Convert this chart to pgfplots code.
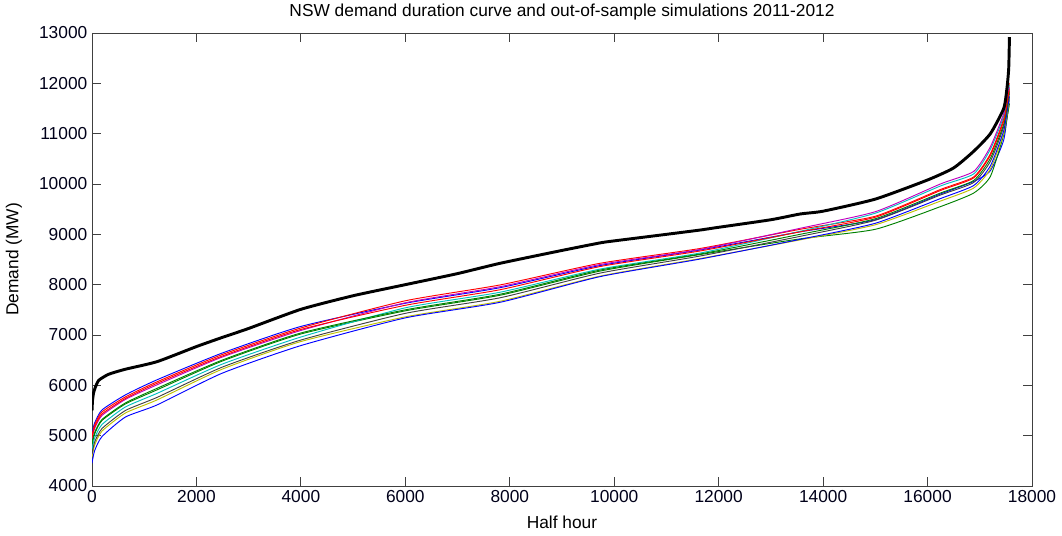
\documentclass[border=0pt]{standalone}
\usepackage{pgfplots}
\pgfplotsset{compat=1.18}
\usepackage{fontspec}
\setmainfont{Liberation Sans}
\definecolor{mb}{rgb}{0,0,1}
\definecolor{mg}{rgb}{0,0.5,0}
\definecolor{mr}{rgb}{1,0,0}
\definecolor{mc}{rgb}{0,0.75,0.75}
\definecolor{mm}{rgb}{0.75,0,0.75}
\definecolor{my}{rgb}{0.75,0.75,0}
\definecolor{mk}{rgb}{0.25,0.25,0.25}
\begin{document}
\begin{tikzpicture}
\begin{axis}[
  name=ax,
  scale only axis,
  width=705pt, height=339.75pt,
  xmin=0, xmax=18000, ymin=4000, ymax=13000,
  xtick={0,2000,...,18000},
  ytick={4000,5000,...,13000},
  scaled ticks=false,
  /pgf/number format/set thousands separator={},
  /pgf/number format/assume math mode=true,
  tick label style={font=\fontsize{13}{15}\selectfont, text=black!90!blue},
  label style={font=\fontsize{13}{15}\selectfont},
  tick align=inside,
  major tick length=6.75pt,
  axis line style={black!75, line width=0.7pt},
  tick style={black!75, line width=0.6pt},
  title={NSW demand duration curve and out-of-sample simulations 2011-2012},
  title style={font=\fontsize{13}{15}\selectfont, at={(axis description cs:0.5,1.0287)}, anchor=center},
  xlabel={Half hour},
  xlabel style={at={(axis description cs:0.5,-0.0795)}, anchor=center},
  ylabel={Demand (MW)},
  ylabel style={at={(axis description cs:-0.083,0.5)}, anchor=center},
  every axis plot/.append style={line width=0.7pt, smooth, tension=0.35},
  clip=true,
]
% blue 1
\addplot[mb] coordinates {(0,5050)(50,5250)(190,5510)(640,5810)(1245,6110)(2490,6640)(4000,7170)(6000,7630)(7816,7940)(9730,8380)(11650,8690)(13560,9050)(15000,9290)(16245,9800)(16883,10050)(17203,10265)(17458,10874)(17554,11590)(17568,11680)};
% green 1
\addplot[mg] coordinates {(0,4810)(50,5030)(190,5300)(640,5630)(1245,5910)(2490,6480)(4000,7020)(6000,7480)(7816,7790)(9730,8270)(11650,8600)(13560,8910)(15000,9100)(16245,9550)(16883,9820)(17203,10150)(17458,10980)(17554,11500)(17568,11600)};
% red 1
\addplot[mr] coordinates {(0,5000)(50,5210)(190,5470)(640,5770)(1245,6070)(2490,6610)(4000,7140)(6000,7680)(7816,7995)(9730,8425)(11650,8720)(13560,9100)(15000,9360)(16245,9890)(16883,10140)(17203,10600)(17458,11300)(17554,11940)(17568,12000)};
% cyan
\addplot[mc] coordinates {(0,4720)(50,4950)(190,5220)(640,5570)(1245,5840)(2490,6420)(4000,6960)(6000,7540)(7816,7850)(9730,8310)(11650,8630)(13560,9060)(15000,9420)(16245,9960)(16883,10200)(17203,10690)(17458,11350)(17554,11900)(17568,11960)};
% magenta
\addplot[mm] coordinates {(0,4930)(50,5140)(190,5400)(640,5720)(1245,6010)(2490,6560)(4000,7090)(6000,7640)(7816,7960)(9730,8400)(11650,8700)(13560,9120)(15000,9450)(16245,10000)(16883,10250)(17203,10740)(17458,11400)(17554,11850)(17568,11920)};
% yellow
\addplot[my] coordinates {(0,4570)(50,4810)(190,5090)(640,5450)(1245,5710)(2490,6320)(4000,6870)(6000,7360)(7816,7670)(9730,8170)(11650,8520)(13560,8890)(15000,9190)(16245,9660)(16883,9920)(17203,10300)(17458,11010)(17554,11610)(17568,11700)};
% dark gray
\addplot[mk] coordinates {(0,4630)(50,4870)(190,5140)(640,5500)(1245,5760)(2490,6360)(4000,6900)(6000,7430)(7816,7740)(9730,8230)(11650,8570)(13560,8960)(15000,9280)(16245,9780)(16883,10030)(17203,10450)(17458,11140)(17554,11720)(17568,11800)};
% blue 2
\addplot[mb] coordinates {(0,4450)(50,4700)(190,4980)(640,5370)(1245,5610)(2490,6240)(4000,6790)(6000,7340)(7816,7650)(9730,8160)(11650,8510)(13560,8900)(15000,9220)(16245,9710)(16883,9970)(17203,10360)(17458,11060)(17554,11650)(17568,11740)};
% green 2
\addplot[mg] coordinates {(0,4840)(50,5060)(190,5320)(640,5650)(1245,5940)(2490,6500)(4000,7040)(6000,7500)(7816,7810)(9730,8290)(11650,8610)(13560,9000)(15000,9310)(16245,9820)(16883,10070)(17203,10510)(17458,11190)(17554,11760)(17568,11840)};
% red 2
\addplot[mr] coordinates {(0,4960)(50,5170)(190,5430)(640,5740)(1245,6040)(2490,6580)(4000,7110)(6000,7590)(7816,7900)(9730,8360)(11650,8670)(13560,9050)(15000,9340)(16245,9870)(16883,10120)(17203,10570)(17458,11250)(17554,11810)(17568,11880)};
% observed demand
\addplot[black, line width=2.2pt] coordinates {(0,5500)(10,5700)(30,5850)(60,5950)(130,6100)(320,6220)(640,6320)(1245,6470)(2000,6770)(2490,6950)(3000,7130)(4000,7510)(5000,7780)(6000,8000)(7000,8220)(7816,8425)(9000,8680)(9730,8830)(10000,8870)(11000,9000)(11650,9086)(12000,9140)(13000,9290)(13560,9404)(14000,9460)(15000,9700)(16000,10080)(16500,10320)(16883,10650)(17203,11000)(17458,11500)(17520,11900)(17554,12300)(17568,12920)};
\end{axis}
\pgfresetboundingbox
\path[use as bounding box] ([shift={(-69pt,-37.5pt)}]ax.south west) rectangle ([shift={(22.5pt,24.75pt)}]ax.north east);
\end{tikzpicture}
\end{document}
